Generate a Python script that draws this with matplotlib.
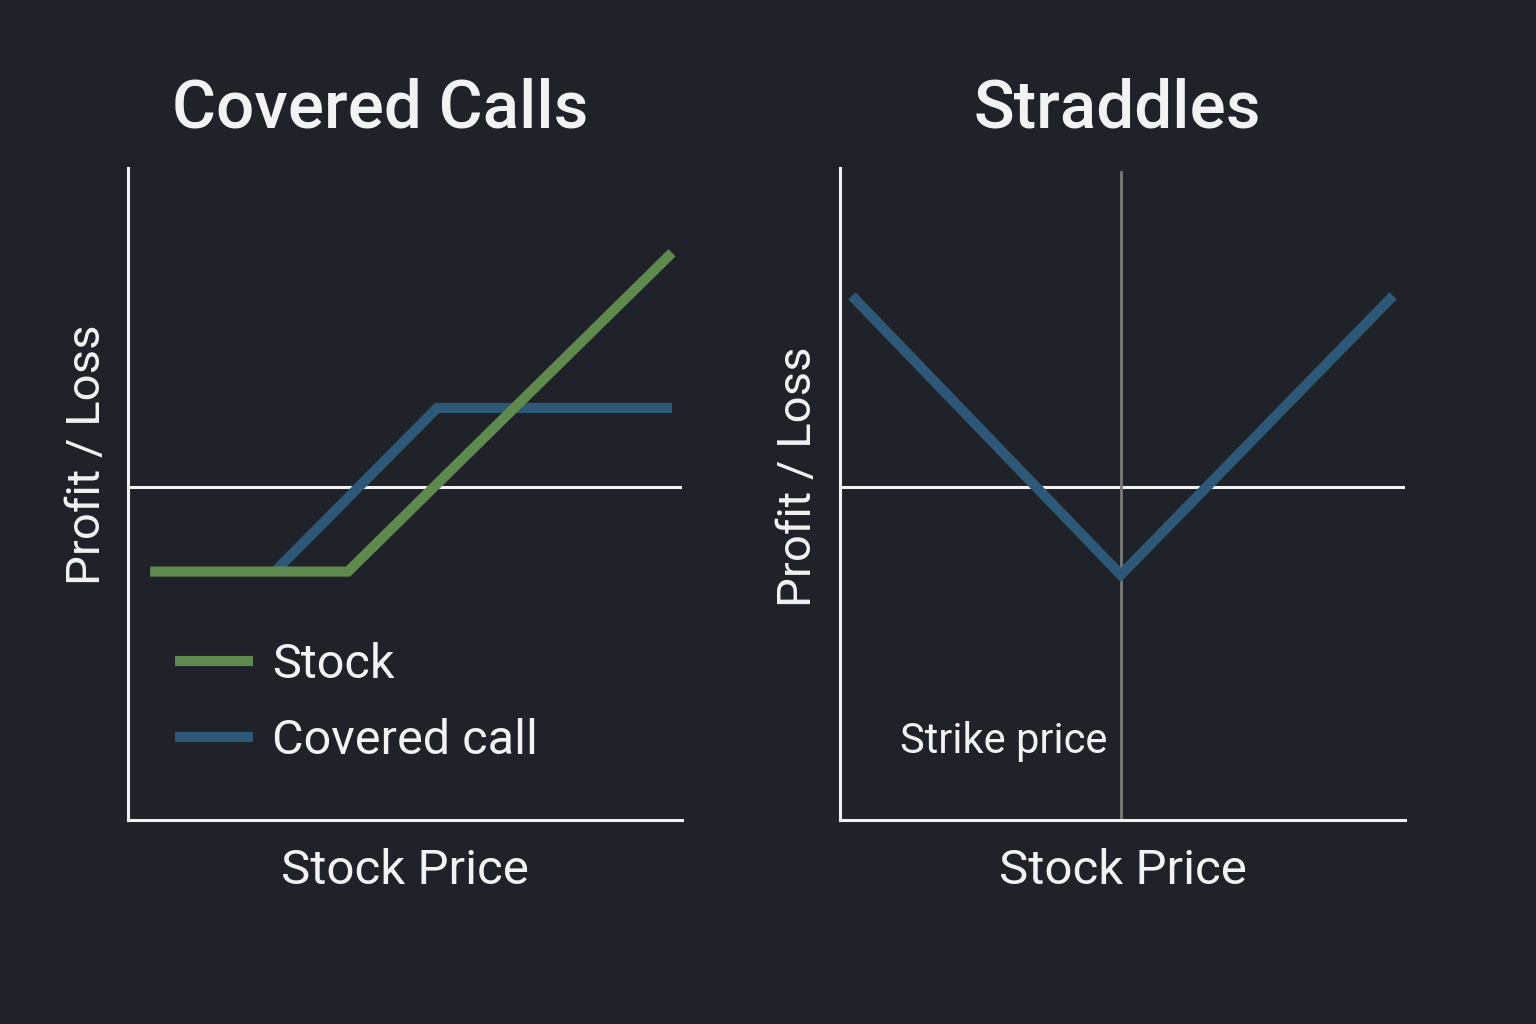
import numpy as np
import matplotlib.pyplot as plt

# data (x = stock price, y = profit/loss)
stock_x = [0.4, 3.97, 9.82]
stock_y = [-1.3, -1.3, 3.59]
cc_x = [2.65, 5.58, 9.82]
cc_y = [-1.3, 1.21, 1.21]
strad_x = [0.21, 4.97, 9.79]
strad_y = [2.93, -1.35, 2.93]
strike = 4.97

bg = '#1f2229'
fg = '#f2f2f2'
green = '#5f8a4e'
blue = '#2e5878'

plt.rcParams['font.family'] = ['Roboto', 'DejaVu Sans']

fig = plt.figure(figsize=(15.36, 10.24), dpi=100, facecolor=bg)

# axes positions in pixels -> figure fractions
W, H = 1536, 1024
def box(x0, x1, y0, y1):
    return [x0 / W, 1 - y1 / H, (x1 - x0) / W, (y1 - y0) / H]

ax1 = fig.add_axes(box(128, 682, 168, 820))
ax2 = fig.add_axes(box(840, 1405, 168, 820))

for ax in (ax1, ax2):
    ax.set_facecolor(bg)
    ax.set_xlim(0, 10)
    ax.set_ylim(-5.11, 4.89)
    ax.set_xticks([])
    ax.set_yticks([])
    for s in ('top', 'right'):
        ax.spines[s].set_visible(False)
    for s in ('left', 'bottom'):
        ax.spines[s].set_color(fg)
        ax.spines[s].set_linewidth(2.2)
    ax.axhline(0, color=fg, lw=2.2, zorder=1)
    ax.set_xlabel('Stock Price', color=fg, fontsize=35.5, labelpad=20)
    ax.set_ylabel('Profit / Loss', color=fg, fontsize=34)

ax1.yaxis.set_label_coords(-0.035, 0.56)
ax2.yaxis.set_label_coords(-0.036, 0.526)

# covered calls
ax1.plot(cc_x, cc_y, color=blue, lw=7.3, solid_joinstyle='miter', solid_capstyle='butt', label='Covered call', zorder=3)
ax1.plot(stock_x, stock_y, color=green, lw=7.3, solid_joinstyle='miter', solid_capstyle='butt', label='Stock', zorder=4)
h, l = ax1.get_legend_handles_labels()
leg = ax1.legend(h[::-1], l[::-1], loc='center left', bbox_to_anchor=(0.085, 0.18), frameon=False,
                 borderpad=0, borderaxespad=0, fontsize=35, labelcolor=fg,
                 handlelength=1.6, handletextpad=0.4, labelspacing=0.62)

fig.text(380 / W, 1 - 127 / H, 'Covered Calls', color=fg, fontsize=48.5, fontweight='medium',
         ha='center', va='baseline')

# straddles
ax2.axvline(strike, color='#7a7a7a', lw=2, ymin=0.004, ymax=0.994, zorder=1)
ax2.plot(strad_x, strad_y, color=blue, lw=7.3, solid_joinstyle='miter', solid_capstyle='butt', zorder=3)
ax2.text(strike - 0.23, -3.9, 'Strike price', color=fg, fontsize=30, ha='right', va='center')

fig.text(1117 / W, 1 - 127 / H, 'Straddles', color=fg, fontsize=48.5, fontweight='medium',
         ha='center', va='baseline')

fig.savefig('out.png', dpi=100, facecolor=bg)
